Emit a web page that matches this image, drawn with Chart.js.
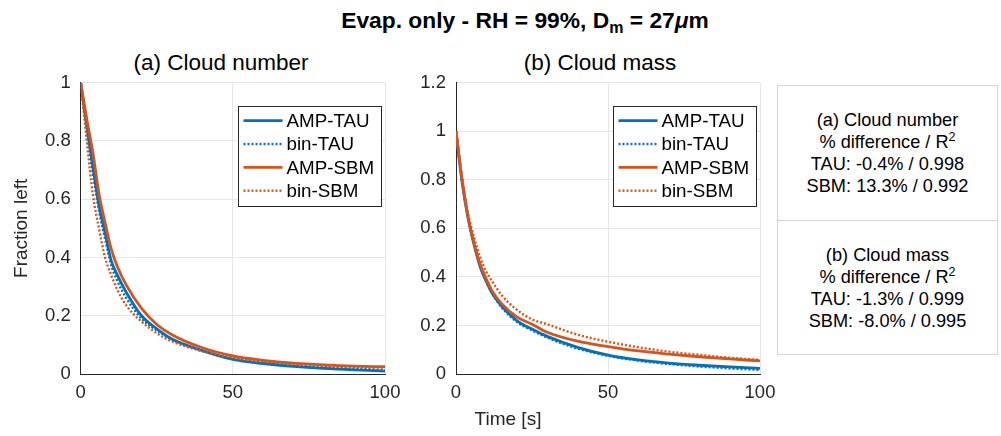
<!DOCTYPE html>
<html>
<head>
<meta charset="utf-8">
<script src="https://cdn.jsdelivr.net/npm/chart.js@4.4.1/dist/chart.umd.min.js"></script>
<style>
  body { margin:0; background:#fff; }
  #page { position:relative; width:1001px; height:436px; background:#fff; overflow:hidden;
          font-family:"Liberation Sans", Arial, Helvetica, sans-serif; color:#000; }
  .lbl { position:absolute; white-space:nowrap; transform:translateX(-50%); }
  #mainTitle { left:525px; top:7px; font-weight:bold; font-size:22.8px; line-height:27px; }
  #mainTitle sub { font-size:16px; vertical-align:-5px; line-height:0; }
  .sub { top:50px; font-size:22.5px; line-height:26px; }
  #xLabel { left:508px; top:408px; font-size:19px; line-height:22px; color:#262626; }
  canvas { position:absolute; }
  .stats { position:absolute; left:777px; width:221px; border:1px solid #d4d4d4; background:#fff;
           text-align:center; font-size:18.2px; line-height:22px; color:#000;
           display:flex; flex-direction:column; justify-content:center; box-sizing:border-box; }
  .stats sup { font-size:12.5px; vertical-align:7px; line-height:0; }
</style>
</head>
<body>
<div id="page">
  <div id="mainTitle" class="lbl">Evap. only - RH = 99%, D<sub>m</sub> = 27<i>μ</i>m</div>
  <div class="lbl sub" style="left:221px">(a) Cloud number</div>
  <div class="lbl sub" style="left:600px">(b) Cloud mass</div>
  <canvas id="chartA" width="442" height="396" style="left:0px;top:40px"></canvas>
  <canvas id="chartB" width="400" height="396" style="left:420px;top:40px"></canvas>
  <div id="xLabel" class="lbl">Time [s]</div>
  <div class="stats" style="top:85px;height:136px">
    <div>(a) Cloud number</div>
    <div>% difference / R<sup>2</sup></div>
    <div>TAU: -0.4% / 0.998</div>
    <div>SBM: 13.3% / 0.992</div>
  </div>
  <div class="stats" style="top:220px;height:135px">
    <div>(b) Cloud mass</div>
    <div>% difference / R<sup>2</sup></div>
    <div>TAU: -1.3% / 0.999</div>
    <div>SBM: -8.0% / 0.995</div>
  </div>
</div>
<script>
// time axis (s)
var timeSec = [0, 2, 4, 6, 8, 10, 12, 15, 20, 25, 30, 40, 50, 60, 70, 80, 90, 100];

// (a) cloud number, fraction left
var numAmpTau = [1, 0.85, 0.71, 0.58, 0.485, 0.39, 0.34, 0.28, 0.20, 0.155, 0.12, 0.08, 0.05, 0.036, 0.026, 0.019, 0.014, 0.01];
var numBinTau = [1, 0.83, 0.69, 0.56, 0.465, 0.375, 0.32, 0.26, 0.19, 0.15, 0.118, 0.08, 0.055, 0.04, 0.03, 0.023, 0.018, 0.014];
var numAmpSbm = [1, 0.875, 0.76, 0.62, 0.52, 0.43, 0.37, 0.305, 0.225, 0.17, 0.135, 0.09, 0.062, 0.047, 0.037, 0.031, 0.027, 0.025];
var numBinSbm = [1, 0.80, 0.615, 0.50, 0.40, 0.34, 0.29, 0.235, 0.18, 0.14, 0.112, 0.078, 0.056, 0.043, 0.035, 0.029, 0.025, 0.022];

// (b) cloud mass, fraction left
var massAmpTau = [1, 0.79, 0.64, 0.53, 0.44, 0.38, 0.33, 0.28, 0.22, 0.185, 0.155, 0.11, 0.078, 0.058, 0.045, 0.036, 0.029, 0.023];
var massBinTau = [1, 0.80, 0.645, 0.535, 0.445, 0.38, 0.33, 0.275, 0.215, 0.18, 0.15, 0.105, 0.075, 0.055, 0.041, 0.031, 0.023, 0.017];
var massAmpSbm = [1, 0.80, 0.645, 0.535, 0.45, 0.39, 0.34, 0.29, 0.235, 0.205, 0.172, 0.135, 0.113, 0.095, 0.082, 0.071, 0.062, 0.054];
var massBinSbm = [1, 0.81, 0.66, 0.56, 0.48, 0.42, 0.38, 0.325, 0.265, 0.225, 0.205, 0.162, 0.133, 0.11, 0.092, 0.079, 0.067, 0.058];

var seriesNames = ['AMP-TAU', 'bin-TAU', 'AMP-SBM', 'bin-SBM'];
var xTicks = [0, 50, 100];
var yTicksA = [0, 0.2, 0.4, 0.6, 0.8, 1];
var yTicksB = [0, 0.2, 0.4, 0.6, 0.8, 1, 1.2];

var BLUE = '#0072BD', ORANGE = '#D95319', AXIS = '#262626', GRID = '#e6e6e6';
var FONT = '"Liberation Sans", Arial, Helvetica, sans-serif';
var styles = [
  {color: BLUE, dash: [], width: 2.8},
  {color: BLUE, dash: [2, 2], width: 2.4},
  {color: ORANGE, dash: [], width: 2.8},
  {color: ORANGE, dash: [2, 2], width: 2.4}
];

function toPoints(vals) {
  var pts = [];
  for (var i = 0; i < timeSec.length; i++) pts.push({x: timeSec[i], y: vals[i]});
  return pts;
}

// matlab style legend box inside the axes, top right
var boxLegend = {
  id: 'boxLegend',
  afterDatasetsDraw: function(chart) {
    var ctx = chart.ctx, a = chart.chartArea;
    var w = 143, h = 100;
    var x0 = a.right - 4.5 - w, y0 = a.top + 23;
    ctx.save();
    ctx.fillStyle = '#fff';
    ctx.fillRect(x0, y0, w, h);
    ctx.strokeStyle = AXIS;
    ctx.lineWidth = 1;
    ctx.strokeRect(Math.round(x0) + 0.5, Math.round(y0) + 0.5, w, h);
    ctx.font = '18.8px ' + FONT;
    ctx.textBaseline = 'middle';
    ctx.textAlign = 'left';
    chart.data.datasets.forEach(function(ds, i) {
      var yy = y0 + 15 + i * 23.33;
      ctx.beginPath();
      ctx.strokeStyle = ds.borderColor;
      ctx.lineWidth = ds.borderWidth;
      ctx.setLineDash(ds.borderDash || []);
      ctx.moveTo(x0 + 6, yy);
      ctx.lineTo(x0 + 45, yy);
      ctx.stroke();
      ctx.setLineDash([]);
      ctx.fillStyle = '#000';
      ctx.fillText(ds.label, x0 + 49, yy + 1);
    });
    ctx.restore();
  }
};

function makePanel(id, data, yTicks, yWidth, rightPad, yTitle) {
  var datasets = [];
  for (var i = 0; i < data.length; i++) {
    datasets.push({
      label: seriesNames[i],
      data: toPoints(data[i]),
      borderColor: styles[i].color,
      borderWidth: styles[i].width,
      borderDash: styles[i].dash,
      pointRadius: 0,
      fill: false,
      cubicInterpolationMode: 'monotone',
      order: data.length - i
    });
  }
  return new Chart(document.getElementById(id), {
    type: 'line',
    data: {datasets: datasets},
    options: {
      responsive: false,
      animation: false,
      devicePixelRatio: 1,
      layout: {padding: {left: 0, right: rightPad, top: 42.7, bottom: 0}},
      plugins: {
        legend: {display: false},
        tooltip: {enabled: false},
        title: {display: false}
      },
      scales: {
        x: {
          type: 'linear', min: 0, max: 100,
          afterBuildTicks: function(s) { s.ticks = xTicks.map(function(v) { return {value: v}; }); },
          afterFit: function(s) { s.height = 62; },
          grid: {color: GRID, drawTicks: false},
          border: {display: true, color: AXIS, width: 1},
          ticks: {color: AXIS, padding: 8, maxRotation: 0, font: {family: FONT, size: 18.5}}
        },
        y: {
          type: 'linear', min: 0, max: yTicks[yTicks.length - 1],
          afterBuildTicks: function(s) { s.ticks = yTicks.map(function(v) { return {value: v}; }); },
          afterFit: function(s) { s.width = yWidth; },
          grid: {color: GRID, drawTicks: false},
          border: {display: true, color: AXIS, width: 1},
          ticks: {color: AXIS, padding: 10, font: {family: FONT, size: 18.5},
                  callback: function(v) { return String(Math.round(v * 10) / 10); }},
          title: {display: !!yTitle, text: yTitle || '', color: AXIS,
                  font: {family: FONT, size: 19}, padding: {top: 10.6, bottom: 0}}
        }
      }
    },
    plugins: [boxLegend]
  });
}

makePanel('chartA', [numAmpTau, numBinTau, numAmpSbm, numBinSbm], yTicksA, 80.7, 57, 'Fraction left');
makePanel('chartB', [massAmpTau, massBinTau, massAmpSbm, massBinSbm], yTicksB, 36, 60, null);
</script>
</body>
</html>
